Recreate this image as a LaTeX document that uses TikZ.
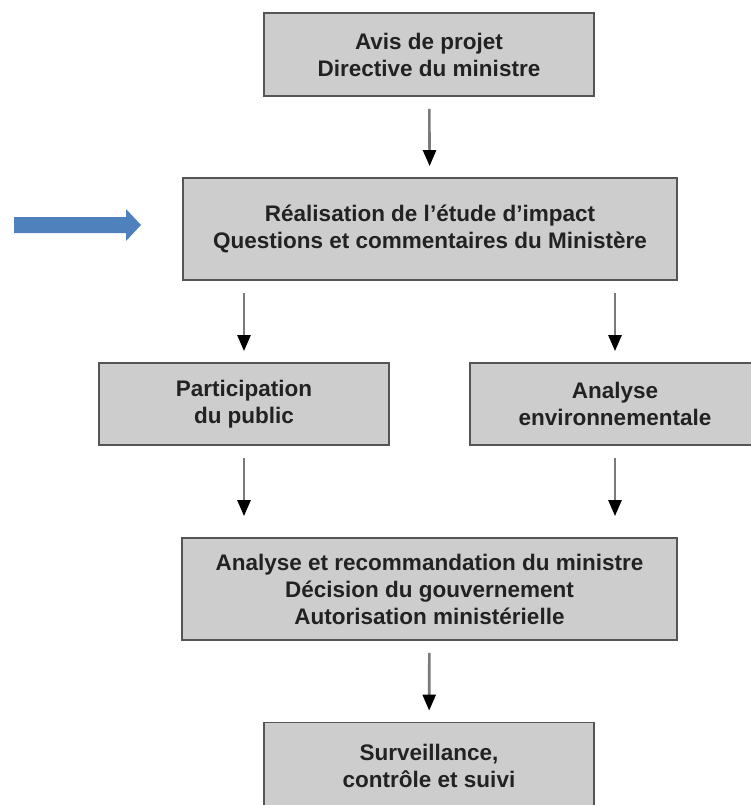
\documentclass[tikz,border=0pt]{standalone}
\usepackage{fontspec}
\setmainfont{Liberation Sans}
\usetikzlibrary{arrows.meta}
\definecolor{boxgray}{HTML}{CDCDCD}
\definecolor{edgegray}{HTML}{555555}
\definecolor{shaftgray}{HTML}{7A7A7A}
\definecolor{txtgray}{HTML}{222222}
\definecolor{pointblue}{HTML}{4F81BD}
\tikzset{
  etape/.style={draw=edgegray, fill=boxgray, line width=1.8pt, align=center,
    text=txtgray, font=\fontsize{22.5}{27}\selectfont\bfseries, inner sep=0pt},
  fleche/.style={draw=shaftgray, line width=2.6pt,
    -{Triangle[length=16pt,width=13pt,color=black]},
    shorten <=12pt, shorten >=11pt}
}
\begin{document}
\begin{tikzpicture}[x=1pt, y=-1pt]
  \useasboundingbox (0,0) rectangle (750,805);
  \node[etape, minimum width=330, minimum height=83] (avis) at (429,54.5)
    {Avis de projet\\Directive du ministre};
  \node[etape, minimum width=494, minimum height=102] (realis) at (430,229)
    {Réalisation de l’étude d’impact\\Questions et commentaires du Ministère};
  \node[etape, minimum width=290, minimum height=82] (partic) at (244,404)
    {Participation\\du public};
  \node[etape, minimum width=290, minimum height=82] (analyse) at (615,404)
    {Analyse\\environnementale};
  \node[etape, minimum width=495, minimum height=102] (decision) at (429.5,589)
    {Analyse et recommandation du ministre\\Décision du gouvernement\\Autorisation ministérielle};
  \node[etape, minimum width=330, minimum height=92] (surveil) at (429,768.5)
    {Surveillance,\\contrôle et suivi\vphantom{g}};
  % fleches
  \draw[fleche] (avis) -- (realis);
  \draw[fleche] (partic |- realis.south) -- (partic);
  \draw[fleche] (analyse |- realis.south) -- (analyse);
  \draw[fleche, shorten >=21pt] (partic) -- (partic |- decision.north);
  \draw[fleche, shorten >=21pt] (analyse) -- (analyse |- decision.north);
  \draw[fleche] (decision) -- (surveil);
  % grosse fleche bleue
  \fill[pointblue] (14,217) -- (126,217) -- (126,209) -- (141,225)
    -- (126,241) -- (126,233) -- (14,233) -- cycle;
\end{tikzpicture}
\end{document}
